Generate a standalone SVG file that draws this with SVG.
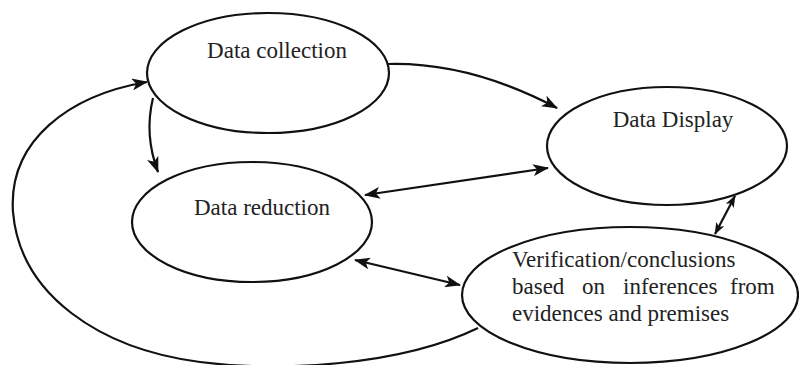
<svg xmlns="http://www.w3.org/2000/svg" width="799" height="365" viewBox="0 0 799 365">
<style>
  .node { fill: #fff; stroke: #111; stroke-width: 2.2; }
  .lbl { font-family: "Liberation Serif", "Times New Roman", serif; font-size: 23px; fill: #222; }
  .conn { fill: none; stroke: #111; stroke-width: 2.2; }
</style>
<defs>
  <marker id="ah" viewBox="0 0 16 12" refX="15" refY="6" markerWidth="16" markerHeight="12" markerUnits="userSpaceOnUse" orient="auto-start-reverse">
    <path d="M0,0 L16,6 L0,12 L4,6 z" fill="#111"/>
  </marker>
  <marker id="ahs" viewBox="0 0 16 12" refX="15" refY="6" markerWidth="12" markerHeight="10" markerUnits="userSpaceOnUse" orient="auto-start-reverse">
    <path d="M0,0 L16,6 L0,12 L4,6 z" fill="#111"/>
  </marker>
</defs>
<rect width="799" height="365" fill="#fff"/>
<g id="n-collection">
  <ellipse class="node" cx="268" cy="73" rx="121" ry="60"/>
  <text class="lbl" x="277" y="58" text-anchor="middle">Data collection</text>
</g>
<g id="n-display">
  <ellipse class="node" cx="667" cy="146" rx="120" ry="59"/>
  <text class="lbl" x="673" y="127" text-anchor="middle">Data Display</text>
</g>
<g id="n-reduction">
  <ellipse class="node" cx="252" cy="222" rx="120" ry="60"/>
  <text class="lbl" x="262" y="215" text-anchor="middle">Data reduction</text>
</g>
<g id="n-verification">
  <ellipse class="node" cx="630" cy="295" rx="168" ry="68"/>
  <text class="lbl" x="512" y="267">Verification/conclusions</text>
  <text class="lbl" y="294"><tspan x="512">based</tspan><tspan x="582">on</tspan><tspan x="623">inferences</tspan><tspan x="730">from</tspan></text>
  <text class="lbl" x="512" y="321">evidences and premises</text>
</g>
<g id="connectors">
  <path class="conn" d="M388,64 Q470,62 557,108" marker-end="url(#ah)"/>
  <path class="conn" d="M153,98 Q144,135 158,172" marker-end="url(#ah)"/>
  <path class="conn" d="M365,195 L548,168" marker-start="url(#ah)" marker-end="url(#ah)"/>
  <path class="conn" d="M355,260 L460,285" marker-start="url(#ah)" marker-end="url(#ah)"/>
  <path class="conn" d="M715,234 L735,196" marker-start="url(#ahs)" marker-end="url(#ahs)"/>
  <path class="conn" d="M478,328 C400,366 280,372 200,362 C100,349 20,295 13,212 C8,140 70,95 147,82" marker-end="url(#ah)"/>
</g>
</svg>
